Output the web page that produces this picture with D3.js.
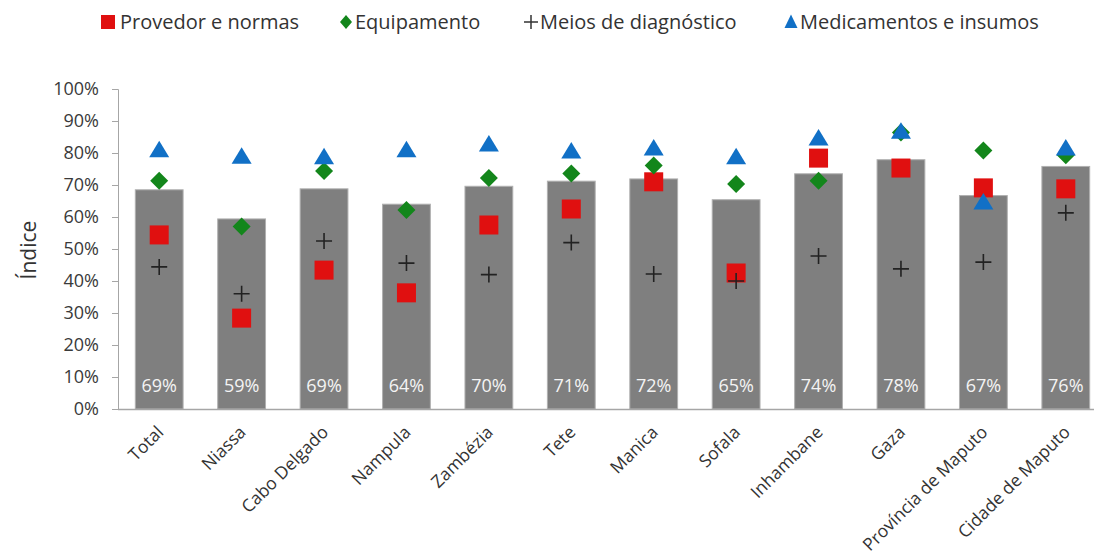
<!DOCTYPE html>
<html><head><meta charset="utf-8">
<script src="https://cdn.jsdelivr.net/npm/d3@7"></script>
<style>
body{margin:0;background:#fff;}
svg{display:block;font-family:"Open Sans",Lato,sans-serif;}
</style></head>
<body>
<svg id="chart" width="1094" height="557"></svg>
<script>
const categories = ["Total","Niassa","Cabo Delgado","Nampula","Zambézia","Tete","Manica","Sofala","Inhambane","Gaza","Província de Maputo","Cidade de Maputo"];
const indice      = [68.5, 59.4, 68.8, 64.0, 69.6, 71.2, 71.9, 65.4, 73.5, 77.9, 66.7, 75.8];
const provedor    = [54.4, 28.4, 43.4, 36.3, 57.5, 62.5, 71.0, 42.5, 78.4, 75.3, 69.1, 68.8];
const equipamento = [71.3, 57.0, 74.4, 62.2, 72.2, 73.6, 76.1, 70.3, 71.3, 86.4, 80.8, 79.3];
const meios       = [44.4, 36.0, 52.5, 45.6, 42.0, 52.0, 42.2, 40.0, 47.8, 43.8, 45.9, 61.3];
const medicamentos= [81.0, 79.0, 78.8, 81.0, 82.8, 80.6, 81.6, 78.8, 84.7, 86.8, 64.7, 81.6];
const yTicks = [0,10,20,30,40,50,60,70,80,90,100];
const legendLabels = ["Provedor e normas","Equipamento","Meios de diagnóstico","Medicamentos e insumos"];

const svg = d3.select("#chart");
const x = d3.scaleBand().domain(categories).range([118, 1107]).paddingInner(0.42).paddingOuter(0.21);
const y = d3.scaleLinear().domain([0,100]).range([409, 89]);
const textCol = "#3a3a3a";

// y axis
const yAxis = d3.axisLeft(y).tickValues(yTicks).tickFormat(d => d + "%").tickSize(6).tickPadding(13);
const gy = svg.append("g").attr("transform","translate(118,0)").call(yAxis);
gy.select(".domain").attr("stroke","#a6a6a6").attr("d","M-6,89.5H0.5V409.5H-6");
gy.selectAll(".tick line").attr("stroke","#a6a6a6");
gy.selectAll(".tick text").attr("fill",textCol).attr("font-size",18).attr("font-family","Open Sans");

svg.append("text").attr("transform","translate(36,250) rotate(-90)")
  .attr("text-anchor","middle").attr("font-size",21).attr("fill","#333").text("Índice");

// bars
svg.append("g").selectAll("rect").data(categories).join("rect")
  .attr("x", d => x(d)).attr("width", x.bandwidth())
  .attr("y", (d,i) => y(indice[i])).attr("height", (d,i) => y(0) - y(indice[i]))
  .attr("fill","#7f7f7f").attr("stroke","#b0b0b0").attr("stroke-width",1);

// x axis line
svg.append("line").attr("x1",118).attr("x2",1094).attr("y1",409.5).attr("y2",409.5).attr("stroke","#a6a6a6").attr("stroke-width",1.5);

// bar labels
svg.append("g").selectAll("text").data(categories).join("text")
  .attr("x", d => x(d) + x.bandwidth()/2).attr("y", 392)
  .attr("text-anchor","middle").attr("font-size",18).attr("fill","#f4f4f4")
  .text((d,i) => Math.round(indice[i]) + "%");

// x labels
svg.append("g").selectAll("text").data(categories).join("text")
  .attr("transform", d => `translate(${x(d)+x.bandwidth()/2+1},${429}) rotate(-45)`)
  .attr("text-anchor","end").attr("dy","0.35em").attr("font-size",17.5).attr("fill","#333")
  .text(d => d);

const cx = d => x(d) + x.bandwidth()/2;
const markers = svg.append("g");
// squares
markers.selectAll(".sq").data(categories).join("rect").attr("class","sq")
  .attr("x", d => cx(d) - 9.5).attr("y", (d,i) => y(provedor[i]) - 9.5)
  .attr("width",19).attr("height",19).attr("fill","#e01010");
// diamonds
markers.selectAll(".di").data(categories).join("path").attr("class","di")
  .attr("transform",(d,i) => `translate(${cx(d)},${y(equipamento[i])})`)
  .attr("d","M0,-9L9,0L0,9L-9,0Z").attr("fill","#13861b");
// plus
markers.selectAll(".pl").data(categories).join("path").attr("class","pl")
  .attr("transform",(d,i) => `translate(${cx(d)},${y(meios[i])})`)
  .attr("d","M-8,0H8M0,-8V8").attr("stroke","#222").attr("stroke-width",1.6).attr("fill","none");
// triangles
markers.selectAll(".tr").data(categories).join("path").attr("class","tr")
  .attr("transform",(d,i) => `translate(${cx(d)},${y(medicamentos[i])})`)
  .attr("d","M0,-9L10,7.5L-10,7.5Z").attr("fill","#1170c6");

// legend
const lg = svg.append("g");
const legX = [108, 346, 531, 791];
const shapes = [
  g => g.append("rect").attr("x",-7).attr("y",-7).attr("width",14).attr("height",14).attr("fill","#e01010"),
  g => g.append("path").attr("d","M0,-7L6,0L0,7L-6,0Z").attr("fill","#13861b"),
  g => g.append("path").attr("d","M-7,0H7M0,-7V7").attr("stroke","#333").attr("stroke-width",1.5),
  g => g.append("path").attr("d","M0,-7.5L6.5,6L-6.5,6Z").attr("fill","#1170c6")
];
legendLabels.forEach((t,i) => {
  const g = lg.append("g").attr("transform",`translate(${legX[i]},22)`);
  shapes[i](g);
  g.append("text").attr("x",i === 0 ? 12 : 9).attr("dy","0.35em").attr("font-size",20).attr("fill","#333").text(t);
});
</script>
</body></html>
